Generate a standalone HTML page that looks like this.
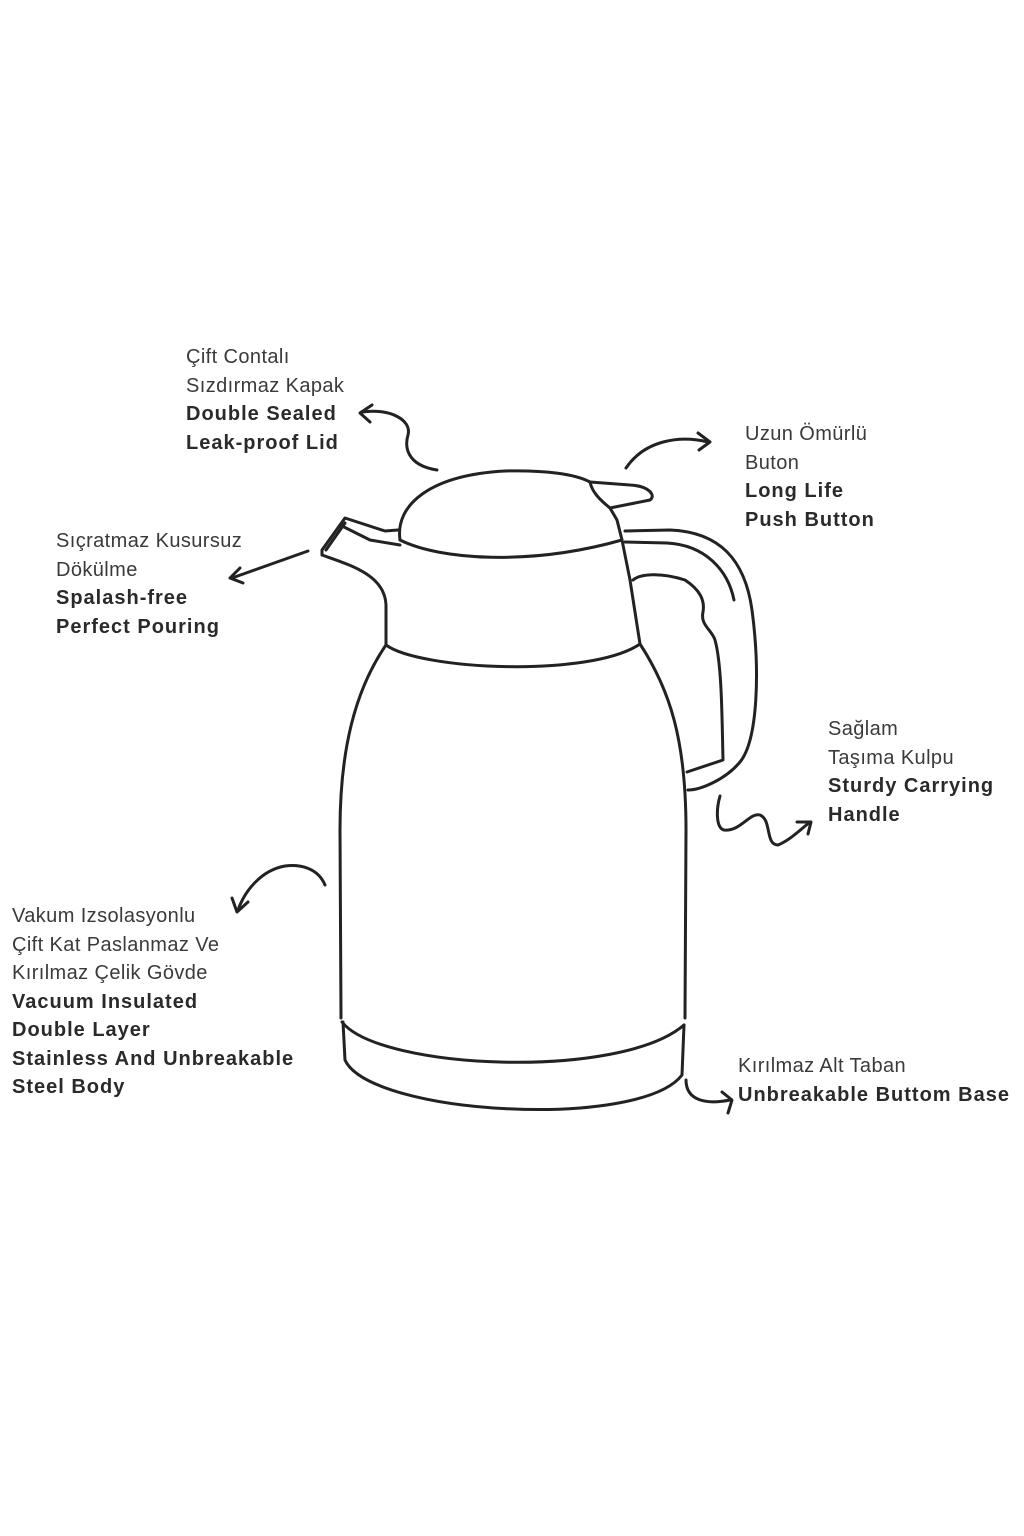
<!DOCTYPE html>
<html><head><meta charset="utf-8"><style>
body{margin:0;background:#fff}
.c{position:relative;width:1024px;height:1536px;background:#fff;overflow:hidden;font-family:"Liberation Sans",sans-serif;font-size:20px;color:#3a3a3a;letter-spacing:0.4px}
.t{position:absolute;line-height:28.5px;white-space:nowrap}
.t b{color:#2a2a2a;letter-spacing:1px}
svg{position:absolute;left:0;top:0}
</style></head><body><div class="c">
<svg width="1024" height="1536" fill="none" stroke="#222" stroke-width="3" stroke-linecap="round" stroke-linejoin="round">
<path d="M400,540 C395,505 430,475 505,471 C545,470 575,474 590,482"/>
<path d="M400,540 C440,560 530,566 622,540"/>
<path d="M590,482 L630,485 C650,486 656,496 650,500 L610,508 C600,500 592,492 590,482 Z"/>
<path d="M610,508 L617,520 L622,540"/>
<path d="M398,530 L385,531 L345,518 L322,550 L322,555"/>
<path d="M345,523 L326,550"/>
<path d="M400,545 L370,540 L340,525"/>
<path d="M322,555 C350,565 385,575 386,605 L386,645"/>
<path d="M622,540 L630,580 L640,644"/>
<path d="M386,645 C420,670 590,678 640,644"/>
<path d="M386,645 C355,690 340,750 340,830 L341,1018"/>
<path d="M640,644 C670,690 686,740 686,830 L685,1018"/>
<path d="M342,1022 C380,1070 620,1080 684,1025"/>
<path d="M343,1022 L345,1060 C370,1115 640,1130 682,1075 L684,1025"/>
<path d="M625,531 L670,530 C720,532 745,560 752,610 C760,670 758,740 740,762 C725,780 700,790 688,790"/>
<path d="M625,542 L667,543 C705,545 728,570 734,600"/>
<path d="M633,580 C640,574 660,572 685,580 C700,590 705,600 703,612 C700,625 712,630 715,640 C722,665 722,720 723,760 L687,772"/>
<path d="M437,470 C405,465 405,445 408,435 C412,420 390,408 362,412"/>
<path d="M372,405 L360,413 L370,422"/>
<path d="M626,468 C645,440 680,435 708,442"/>
<path d="M698,433 L710,442 L699,450"/>
<path d="M308,551 L232,578"/>
<path d="M240,568 L230,578 L243,583"/>
<path d="M720,796 C716,810 716,828 724,830 C740,832 750,812 760,815 C772,820 765,845 778,845 C790,840 800,830 810,822"/>
<path d="M797,822 L811,822 L808,834"/>
<path d="M325,885 C318,868 300,864 285,866 C262,870 245,890 238,910"/>
<path d="M232,898 L237,912 L248,902"/>
<path d="M686,1080 C686,1100 705,1105 730,1100"/>
<path d="M722,1092 L732,1100 L728,1113"/>
</svg>
<div class="t" style="left:186px;top:343px">Çift Contalı<br>Sızdırmaz Kapak<br><b>Double Sealed<br>Leak-proof Lid</b></div>
<div class="t" style="left:745px;top:420px">Uzun Ömürlü<br>Buton<br><b>Long Life<br>Push Button</b></div>
<div class="t" style="left:56px;top:527px">Sıçratmaz Kusursuz<br>Dökülme<br><b>Spalash-free<br>Perfect Pouring</b></div>
<div class="t" style="left:828px;top:715px">Sağlam<br>Taşıma Kulpu<br><b>Sturdy Carrying<br>Handle</b></div>
<div class="t" style="left:12px;top:902px">Vakum Izsolasyonlu<br>Çift Kat Paslanmaz Ve<br>Kırılmaz Çelik Gövde<br><b>Vacuum Insulated<br>Double Layer<br>Stainless And Unbreakable<br>Steel Body</b></div>
<div class="t" style="left:738px;top:1052px">Kırılmaz Alt Taban<br><b>Unbreakable Buttom Base</b></div>
</div></body></html>
